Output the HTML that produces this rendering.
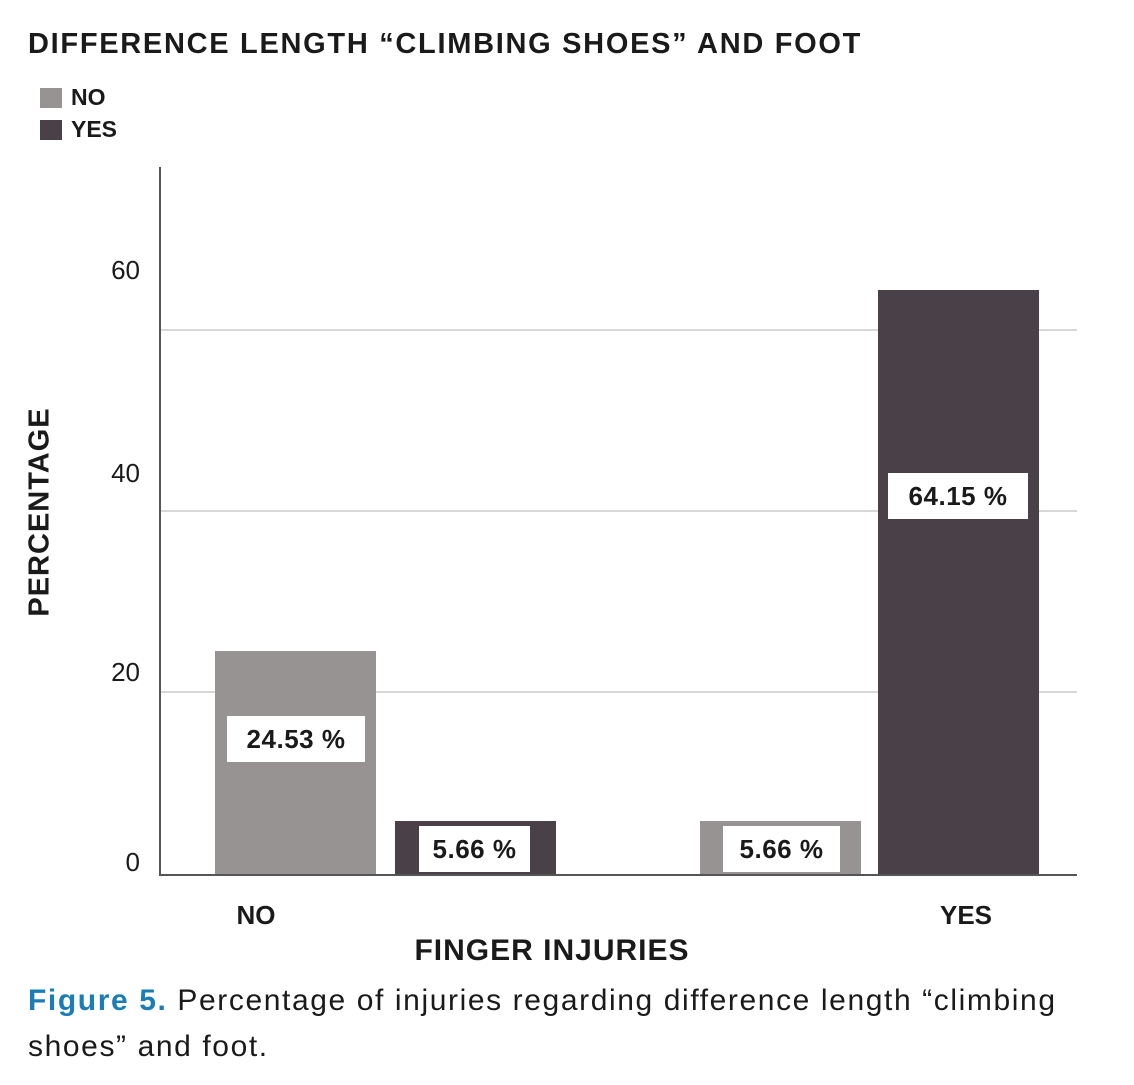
<!DOCTYPE html>
<html><head><style>
body{margin:0;width:1134px;height:1085px;background:#fff;position:relative;font-family:"Liberation Sans",sans-serif;color:#1a1a1a;overflow:hidden}
.a{position:absolute;white-space:nowrap}
.b{font-weight:bold}
.lbl{position:absolute;background:#fff;font-weight:bold;font-size:26px;text-align:center;line-height:46px;color:#1a1a1a;letter-spacing:0.5px}
</style></head><body>
<div class="a b" style="left:28px;top:28px;font-size:29px;letter-spacing:1.7px">DIFFERENCE LENGTH “CLIMBING SHOES” AND FOOT</div>
<div class="a" style="left:40px;top:88px;width:22px;height:20px;background:#979393"></div>
<div class="a b" style="left:71px;top:84px;font-size:23px">NO</div>
<div class="a" style="left:40px;top:120px;width:22px;height:20px;background:#4a4148"></div>
<div class="a b" style="left:71px;top:116px;font-size:23px">YES</div>

<div class="a" style="left:161px;top:329px;width:916px;height:2px;background:#d8d8d8"></div>
<div class="a" style="left:161px;top:510px;width:916px;height:2px;background:#d8d8d8"></div>
<div class="a" style="left:161px;top:691px;width:916px;height:2px;background:#d8d8d8"></div>

<div class="a" style="left:215px;top:651px;width:161px;height:223px;background:#979393"></div>
<div class="a" style="left:395px;top:821px;width:161px;height:53px;background:#4a4148"></div>
<div class="a" style="left:700px;top:821px;width:161px;height:53px;background:#979393"></div>
<div class="a" style="left:878px;top:290px;width:161px;height:584px;background:#4a4148"></div>

<div class="a" style="left:159px;top:167px;width:2px;height:709px;background:#555"></div>
<div class="a" style="left:159px;top:874px;width:918px;height:2px;background:#555"></div>

<div class="a" style="left:100px;top:255px;font-size:26px;width:40px;text-align:right">60</div>
<div class="a" style="left:100px;top:458px;font-size:26px;width:40px;text-align:right">40</div>
<div class="a" style="left:100px;top:657px;font-size:26px;width:40px;text-align:right">20</div>
<div class="a" style="left:100px;top:847px;font-size:26px;width:40px;text-align:right">0</div>

<div class="lbl" style="left:227px;top:716px;width:138px">24.53 %</div>
<div class="lbl" style="left:419px;top:826px;width:111px">5.66 %</div>
<div class="lbl" style="left:723px;top:826px;width:117px">5.66 %</div>
<div class="lbl" style="left:888px;top:473px;width:140px">64.15 %</div>

<div class="a b" style="left:206px;top:900px;width:100px;text-align:center;font-size:26px">NO</div>
<div class="a b" style="left:916px;top:900px;width:100px;text-align:center;font-size:26px">YES</div>
<div class="a b" style="left:302px;top:934px;width:500px;text-align:center;font-size:30px;letter-spacing:1px">FINGER INJURIES</div>
<div class="a b" style="left:40px;top:512px;font-size:29px;letter-spacing:1px;transform:translate(-50%,-50%) rotate(-90deg)">PERCENTAGE</div>

<div class="a" style="left:28px;top:978px;font-size:30px;line-height:46px;letter-spacing:1.6px"><span class="b" style="color:#1a7db5">Figure 5.</span> Percentage of injuries regarding difference length “climbing<br>shoes” and foot.</div>
</body></html>
